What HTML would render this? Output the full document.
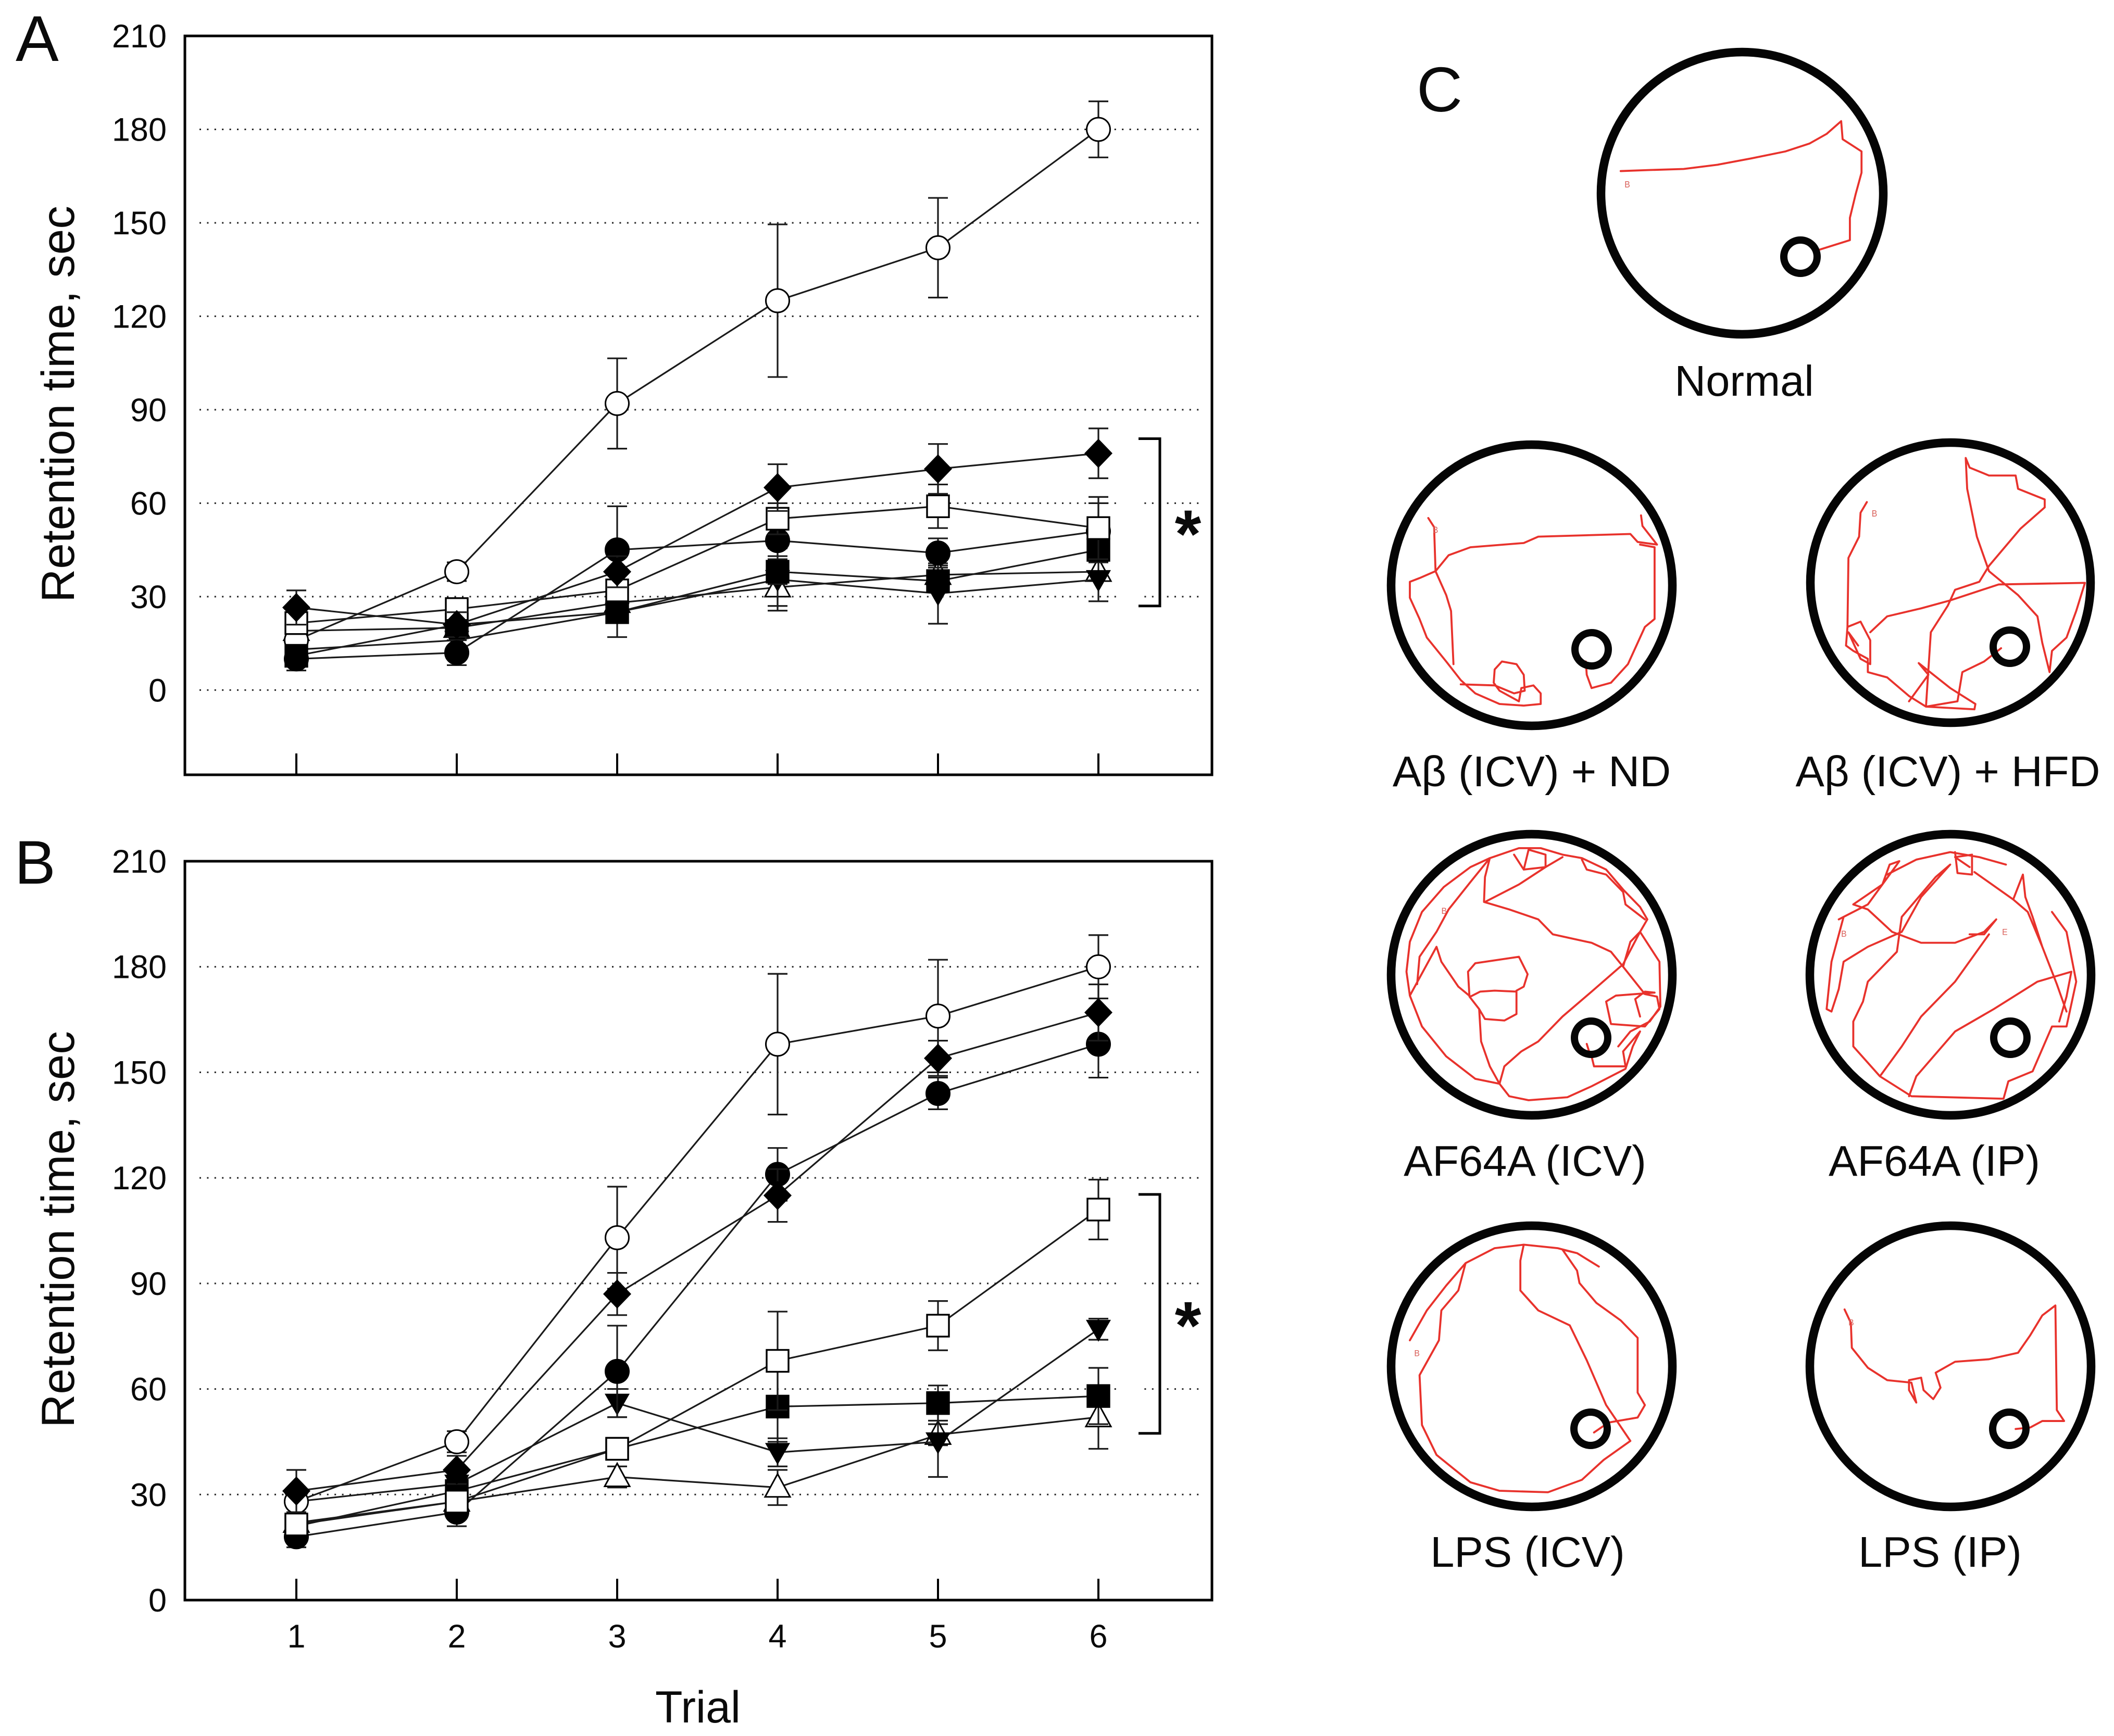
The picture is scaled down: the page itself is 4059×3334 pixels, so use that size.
<!DOCTYPE html>
<html lang="en">
<head>
<meta charset="utf-8">
<title>Retention time and swimming paths</title>
<style>
html,body{margin:0;padding:0;background:#fff;}
svg{display:block;}
text{font-family:"Liberation Sans","DejaVu Sans",sans-serif;fill:#0a0a0a;}
.path{fill:none;stroke:#e8322c;stroke-width:3.8;stroke-linejoin:round;stroke-linecap:round;vector-effect:non-scaling-stroke;}
.ring{fill:none;stroke:#050505;stroke-width:16.5;}
.pool-inner{fill:none;stroke:#050505;stroke-width:14;}
.lbl{font-size:83px;text-anchor:middle;}
.mini{font-size:17px;fill:#d9605a;}
</style>
</head>
<body>
<svg id="fig" xmlns="http://www.w3.org/2000/svg" width="4059" height="3334" viewBox="0 0 4059 3334">
<rect width="4059" height="3334" fill="#fff"/>

<text x="30" y="117" font-size="124">A</text>
<text x="28" y="1697" font-size="118">B</text>
<text x="2720" y="214" font-size="122">C</text>

<g id="chartA"></g>
<g id="chartB"></g>

<text transform="translate(142,776) rotate(-90)" text-anchor="middle" font-size="89">Retention time, sec</text>
<text transform="translate(142,2361) rotate(-90)" text-anchor="middle" font-size="89">Retention time, sec</text>
<text x="1340" y="3308" text-anchor="middle" font-size="86">Trial</text>

<!-- Panel C: pools -->
<g>
  <circle class="ring" cx="3345" cy="371" r="271"/>
  <g transform="translate(2600,0) scale(0.9305,1.0204)">
    <path class="path" d="M550,322 L610,320 L680,318 L750,310 L820,298 L890,285 L940,270 L975,252 L1005,228 L1008,262 L1047,285 L1047,325 L1035,365 L1023,410 L1023,452 L960,470"/>
    <text class="mini" x="558" y="353">B</text>
  </g>
  <circle class="pool-inner" cx="3457" cy="493" r="32"/>
</g>
<text class="lbl" x="3349" y="760">Normal</text>

<g>
  <circle class="ring" cx="2941" cy="1124" r="270"/>
  <g transform="translate(2600,0) scale(0.9305,1.0204)">
    <path class="path" d="M153,975 L165,992 L168,1075 L135,1088 L115,1095 L115,1125 L135,1165 L150,1200 L190,1245 L220,1280 L250,1305 L300,1325 L350,1328 L385,1325 L385,1305 L370,1290 L345,1295 L340,1320 L300,1300 L288,1285 L290,1260 L305,1245 L335,1250 L350,1270 L352,1300 L330,1305 L290,1290 L220,1288 M205,1250 L200,1150 L190,1120 L168,1075 L195,1045 L240,1030 L350,1022 L380,1010 L570,1005 L585,1020 L625,1025 L595,990 L592,970 M590,1025 L620,1030 L620,1165 L600,1180 L585,1210 L565,1250 L530,1285 L490,1295 L480,1270 L478,1245"/>
    <text class="mini" x="162" y="1003">B</text>
  </g>
  <circle class="pool-inner" cx="3056" cy="1247" r="32"/>
</g>
<text class="lbl" x="2941" y="1510">Aβ (ICV) + ND</text>

<g>
  <circle class="ring" cx="3745" cy="1119" r="269"/>
  <g transform="translate(2600,0) scale(0.9305,1.0204)">
    <path class="path" d="M1058,945 L1045,965 L1042,1010 L1020,1050 L1018,1180 L1015,1215 L1030,1225 L1060,1240 L1060,1265 L1100,1275 L1145,1310 L1180,1330 L1280,1335 L1282,1325 L1230,1295 L1165,1248 L1185,1270 L1145,1320 M1018,1180 L1045,1170 L1065,1205 L1065,1250 L1045,1240 L1020,1190 L1040,1215 M1065,1190 L1100,1160 L1170,1145 L1230,1130 L1330,1100 L1508,1097 L1490,1150 L1470,1200 L1440,1225 L1435,1265 L1420,1210 L1410,1160 L1370,1120 L1310,1075 L1285,1010 L1265,920 L1262,862 L1270,880 L1310,895 L1365,895 L1370,920 L1425,940 L1425,955 L1375,995 L1310,1065 L1290,1095 L1240,1110 L1225,1140 L1190,1190 L1180,1330 L1245,1320 L1255,1265 L1300,1245 L1335,1220"/>
    <text class="mini" x="1068" y="972">B</text>
  </g>
  <circle class="pool-inner" cx="3859" cy="1242" r="32"/>
</g>
<text class="lbl" x="3740" y="1510">Aβ (ICV) + HFD</text>

<g>
  <circle class="ring" cx="2941" cy="1872" r="270"/>
  <g transform="translate(2600,1560) scale(0.9305,0.9567)">
    <path class="path" d="M115,368 L108,320 L115,260 L140,200 L185,150 L240,110 L280,92 L340,72 L385,72 L430,85 L470,92 L520,115 L555,155 L590,190 L605,215 L590,240 L630,300 L632,390 L610,420 L570,440 L545,470 M130,345 L135,290 L170,240 L195,195 L240,140 L280,92 L270,130 L268,180 L320,195 L380,215 L410,245 L490,262 L530,280 L555,310 L600,365 L625,370 L630,395 L600,430 L530,425 L520,380 L540,368 L620,362 L600,360 L580,375 L590,410 M115,368 L170,270 L180,300 L215,350 L240,370 L260,360 L290,358 L335,360 L335,405 L310,418 L270,415 L258,395 L238,370 L235,320 L250,303 L340,290 L358,325 L350,350 L335,358 M258,395 L262,460 L280,510 L300,545 L320,570 L360,578 L440,572 L490,550 L560,515 L575,470 L590,440 M115,368 L140,430 L190,490 L250,535 L300,545 L310,510 L345,480 L380,460 L430,410 L490,360 L555,305 L590,240 L605,215 M555,310 L570,260 L590,240 M490,490 L495,510 L560,510 L555,480 L590,440 M488,490 L480,465 M270,180 L340,145 L395,110 L430,90 M330,85 L350,115 L395,110 L395,85 L360,75 L350,115 M470,95 L480,115 L520,125 L555,160 L560,185 L600,215"/>
    <text class="mini" x="180" y="204">B</text>
  </g>
  <circle class="pool-inner" cx="3055" cy="1993" r="32"/>
</g>
<text class="lbl" x="2928" y="2258">AF64A (ICV)</text>

<g>
  <circle class="ring" cx="3745" cy="1872" r="270"/>
  <g transform="translate(2600,1560) scale(0.9305,0.9567)">
    <path class="path" d="M1000,215 L1060,185 L1120,105 L1125,98 L1105,105 L1090,145 L1030,185 L1060,195 L1110,240 L1170,262 L1240,262 L1300,240 L1325,215 L1300,245 L1270,245 M1010,210 L985,300 L975,395 L985,400 L1000,355 L1010,300 L1060,270 L1130,240 L1170,170 L1230,105 L1200,130 L1130,210 L1120,280 L1060,340 L1050,380 L1030,420 L1030,470 L1085,530 L1150,570 L1340,575 L1350,540 L1400,520 L1440,430 L1470,430 L1490,340 L1470,240 L1440,200 M1085,530 L1130,470 L1170,410 L1240,340 L1310,245 M1145,570 L1160,530 L1240,440 L1320,395 L1410,340 L1480,320 L1470,370 L1455,420 M1100,125 L1160,95 L1230,80 L1290,90 L1345,105 M1240,80 L1245,122 L1275,125 L1275,85 L1240,90 L1270,110 M1280,120 L1360,175 L1390,200 L1420,270 L1450,345 L1470,400 M1360,175 L1380,125 L1385,170 L1400,210 L1420,270"/>
    <text class="mini" x="1005" y="250">B</text>
    <text class="mini" x="1337" y="246">E</text>
  </g>
  <circle class="pool-inner" cx="3860" cy="1993" r="32"/>
</g>
<text class="lbl" x="3714" y="2258">AF64A (IP)</text>

<g>
  <circle class="ring" cx="2941" cy="2624" r="270"/>
  <g transform="translate(2600,1560) scale(0.9305,0.9567)">
    <path class="path" d="M115,1060 L150,1000 L190,950 L230,905 L290,875 L350,868 L420,875 L460,885 L505,912 L460,885 L430,878 L460,920 L465,945 L500,985 L550,1020 L585,1055 L585,1165 L600,1190 L585,1215 L525,1225 L495,1245 M350,868 L343,900 L343,960 L380,1000 L445,1030 L480,1100 L520,1190 L570,1262 L515,1300 L470,1340 L400,1365 L300,1362 L240,1345 L170,1290 L140,1230 L135,1130 L175,1060 L180,1000 L215,960 L230,905"/>
    <text class="mini" x="124" y="1092">B</text>
  </g>
  <circle class="pool-inner" cx="3054" cy="2744" r="32"/>
</g>
<text class="lbl" x="2933" y="3009">LPS (ICV)</text>

<g>
  <circle class="ring" cx="3745" cy="2624" r="270"/>
  <g transform="translate(2600,1560) scale(0.9305,0.9567)">
    <path class="path" d="M1012,998 L1025,1025 L1027,1075 L1060,1115 L1100,1140 L1150,1145 L1160,1185 L1145,1160 L1145,1140 L1170,1135 L1175,1160 L1195,1178 L1210,1155 L1200,1125 L1240,1103 L1310,1098 L1370,1085 L1395,1050 L1420,1010 L1447,990 L1450,1200 L1465,1222 L1420,1222 L1395,1235 L1365,1238"/>
    <text class="mini" x="1020" y="1030">B</text>
  </g>
  <circle class="pool-inner" cx="3858" cy="2744" r="32"/>
</g>
<text class="lbl" x="3725" y="3009">LPS (IP)</text>
</svg>

<script>
// ---- shared categories and tick labels ----
const trials = [1, 2, 3, 4, 5, 6];
const yTickValues = [0, 30, 60, 90, 120, 150, 180, 210];

// ---- Panel A values (sec) ----
const aOpenCircle = [16, 38, 92, 125, 142, 180];
const aOpenCircleErr = [2, 3, 14.5, 24.5, 16, 9];
const aDiamond = [26.5, 21, 38, 65, 71, 76];
const aDiamondErr = [5.5, 4, 5, 7.5, 8, 8];
const aOpenSquare = [21.5, 26, 32, 55, 59, 52];
const aOpenSquareErr = [3, 3, 3, 5, 7, 10];
const aFilledCircle = [10, 12, 45, 48, 44, 51];
const aFilledCircleErr = [3.7, 4, 14, 5, 4.7, 9];
const aFilledSquare = [11, 21, 25, 38, 35, 45];
const aFilledSquareErr = [3, 3, 8, 4, 3, 4];
const aTriUp = [19, 20, 28, 33, 37, 38];
const aTriUpErr = [2, 2, 3, 6, 3, 3];
const aTriDown = [13, 16, 25, 35.5, 31, 35.5];
const aTriDownErr = [2, 2, 3, 10, 9.7, 7];
const aBracket = [80.7, 27];

// ---- Panel B values (sec) ----
const bOpenCircle = [28, 45, 103, 158, 166, 180];
const bOpenCircleErr = [3, 3, 14.5, 20, 16, 9];
const bDiamond = [31, 37, 87, 115, 154, 167];
const bDiamondErr = [6, 4, 6, 7.5, 5, 8];
const bOpenSquare = [21.5, 28, 43, 68, 78, 111];
const bOpenSquareErr = [3, 3, 3, 14, 7, 8.5];
const bFilledCircle = [18, 25, 65, 121, 144, 158];
const bFilledCircleErr = [3, 4, 13, 7.5, 4.5, 9.5];
const bFilledSquare = [21, 31, 43, 55, 56, 58];
const bFilledSquareErr = [3, 3, 3, 10, 5, 8];
const bTriUp = [22, 28, 35, 32, 47, 52];
const bTriUpErr = [3, 3, 3, 5, 3, 9];
const bTriDown = [28, 33, 56, 42, 45, 77];
const bTriDownErr = [3, 3, 4, 4, 10, 3];
const bBracket = [115.3, 47.4];

const NS = 'http://www.w3.org/2000/svg';

function svgEl(parent, tag, attrs) {
  const el = document.createElementNS(NS, tag);
  for (const k in attrs) el.setAttribute(k, attrs[k]);
  parent.appendChild(el);
  return el;
}

function xScale(t) {
  return 569 + (t - 1) * 308;
}

function makeYScale(domainMin, domainMax, pixelBottom, pixelTop) {
  return function (v) {
    return pixelBottom - (v - domainMin) / (domainMax - domainMin) * (pixelBottom - pixelTop);
  };
}

function drawMarker(parent, kind, cx, cy) {
  const dark = '#000';
  let el;
  if (kind === 'open-circle' || kind === 'filled-circle') {
    el = svgEl(parent, 'circle', { cx: cx, cy: cy, r: 22.5, fill: kind === 'open-circle' ? '#fff' : dark, stroke: dark, 'stroke-width': 3 });
  } else if (kind === 'open-square' || kind === 'filled-square') {
    el = svgEl(parent, 'rect', { x: cx - 21, y: cy - 21, width: 42, height: 42, fill: kind === 'open-square' ? '#fff' : dark, stroke: dark, 'stroke-width': 3.4 });
  } else if (kind === 'diamond') {
    el = svgEl(parent, 'polygon', { points: [cx, cy - 28, cx + 27, cy, cx, cy + 28, cx - 27, cy].join(','), fill: dark });
  } else if (kind === 'tri-up') {
    el = svgEl(parent, 'polygon', { points: [cx, cy - 26, cx + 24, cy + 18, cx - 24, cy + 18].join(','), fill: '#fff', stroke: dark, 'stroke-width': 3 });
  } else {
    el = svgEl(parent, 'polygon', { points: [cx - 24, cy - 18, cx + 24, cy - 18, cx, cy + 24].join(','), fill: dark });
  }
  
  
}

function drawSeries(parent, kind, values, errors, y) {
  const g = svgEl(parent, 'g', {});
  
  
  const pts = trials.map(function (t, i) { return xScale(t) + ',' + y(values[i]); }).join(' ');
  const line = svgEl(g, 'polyline', { points: pts, fill: 'none', stroke: '#1a1a1a', 'stroke-width': 3.2 });
  
  
  trials.forEach(function (t, i) {
    const x = xScale(t), hi = y(values[i] + errors[i]), lo = y(values[i] - errors[i]);
    const bar = svgEl(g, 'path', { d: 'M' + x + ',' + hi + 'V' + lo + 'M' + (x - 19) + ',' + hi + 'H' + (x + 19) + 'M' + (x - 19) + ',' + lo + 'H' + (x + 19), fill: 'none', stroke: '#1a1a1a', 'stroke-width': 3.2 });
    
    
  });
  trials.forEach(function (t, i) {
    drawMarker(g, kind, xScale(t), y(values[i]));
  });
}

function drawPanel(root, y, left, right, top, bottom, showXLabels, bracket, labelShift, series) {
  yTickValues.forEach(function (v) {
    const py = y(v);
    if (Math.abs(py - top) > 2 && Math.abs(py - bottom) > 2) {
      const grid = svgEl(root, 'line', { x1: 383, x2: 2312, y1: py, y2: py, stroke: '#222', 'stroke-width': 3, 'stroke-dasharray': '3 11.4' });
      
      
    }
    const lab = svgEl(root, 'text', { x: 320, y: py + labelShift, 'text-anchor': 'end', 'font-size': 63 });
    lab.textContent = String(v);
    
    
  });
  const gap = svgEl(root, 'rect', { x: 2145, y: y(bracket[0]), width: 45, height: y(bracket[1]) - y(bracket[0]), fill: '#fff' });
  
  

  const frame = svgEl(root, 'rect', { x: left, y: top, width: right - left, height: bottom - top, fill: 'none', stroke: '#000', 'stroke-width': 5 });
  
  

  trials.forEach(function (t) {
    const tick = svgEl(root, 'line', { x1: xScale(t), x2: xScale(t), y1: bottom, y2: bottom - 41, stroke: '#000', 'stroke-width': 4 });
    
    
    if (showXLabels) {
      const lab = svgEl(root, 'text', { x: xScale(t), y: bottom + 91, 'text-anchor': 'middle', 'font-size': 63 });
      lab.textContent = String(t);
      
      
    }
  });

  series.forEach(function (s) {
    drawSeries(root, s[0], s[1], s[2], y);
  });

  const by0 = y(bracket[0]), by1 = y(bracket[1]);
  const br = svgEl(root, 'path', { d: 'M2186,' + by0 + 'H2227V' + by1 + 'H2186', fill: 'none', stroke: '#000', 'stroke-width': 5 });
  
  
  const star = svgEl(root, 'text', { x: 2281, y: (by0 + by1) / 2 + 67, 'text-anchor': 'middle', 'font-size': 130, 'font-weight': 'bold' });
  star.textContent = '*';
  
  
}

drawPanel(document.getElementById('chartA'), makeYScale(-27.2, 210, 1488, 69), 355, 2327, 69, 1488, false, aBracket, 22, [
  ['tri-up', aTriUp, aTriUpErr],
  ['tri-down', aTriDown, aTriDownErr],
  ['open-circle', aOpenCircle, aOpenCircleErr],
  ['filled-circle', aFilledCircle, aFilledCircleErr],
  ['filled-square', aFilledSquare, aFilledSquareErr],
  ['open-square', aOpenSquare, aOpenSquareErr],
  ['diamond', aDiamond, aDiamondErr]
]);

drawPanel(document.getElementById('chartB'), makeYScale(0, 210, 3073, 1654), 355, 2327, 1654, 3073, true, bBracket, 22, [
  ['tri-up', bTriUp, bTriUpErr],
  ['tri-down', bTriDown, bTriDownErr],
  ['open-circle', bOpenCircle, bOpenCircleErr],
  ['filled-circle', bFilledCircle, bFilledCircleErr],
  ['filled-square', bFilledSquare, bFilledSquareErr],
  ['open-square', bOpenSquare, bOpenSquareErr],
  ['diamond', bDiamond, bDiamondErr]
]);
</script>
</body>
</html>
